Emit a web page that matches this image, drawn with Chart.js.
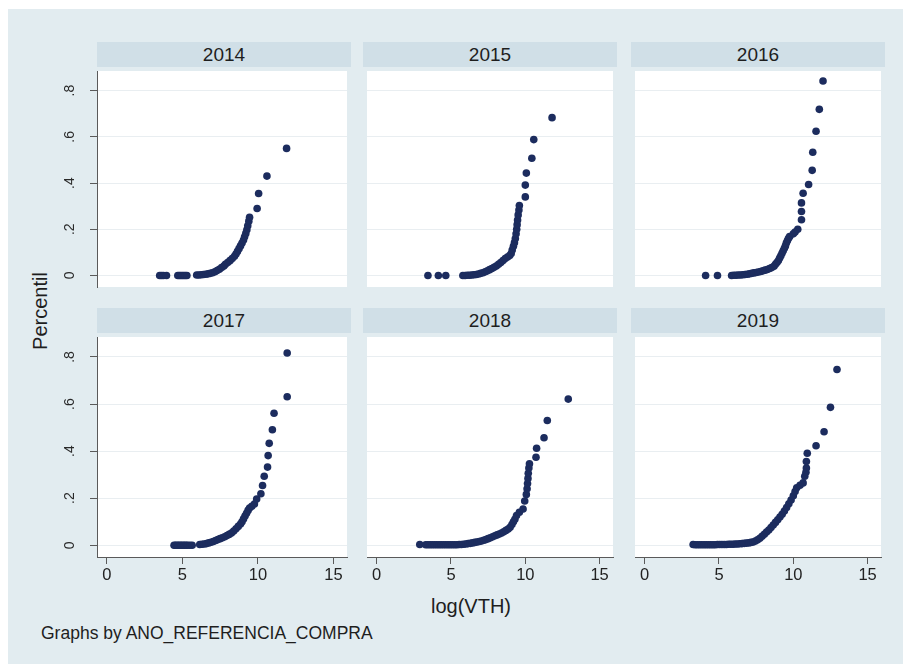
<!DOCTYPE html>
<html>
<head>
<meta charset="utf-8">
<script src="https://cdn.jsdelivr.net/npm/chart.js@4.4.1/dist/chart.umd.min.js"></script>
<style>
body{margin:0;width:903px;height:664px;background:#fff;position:relative;overflow:hidden;font-family:"Liberation Sans",Arial,sans-serif;}
#sfondo{position:absolute;left:8px;top:9px;right:0;bottom:0;background:#e2ecf0;}
.strip{position:absolute;height:25px;background:#d0dfe7;color:#1e1e1e;font-size:19px;line-height:26px;text-align:center;}
canvas{position:absolute;}
.testo{position:absolute;color:#1e1e1e;white-space:nowrap;line-height:1;}
</style>
</head>
<body>
<div id="sfondo"></div>
<div id="pannelli"></div>
<div class="testo" style="left:-10px;top:301px;width:100px;text-align:center;font-size:20px;transform:rotate(-90deg);transform-origin:50px 10px;">Percentil</div>
<div class="testo" style="left:431px;top:596px;font-size:20px;">log(VTH)</div>
<div class="testo" style="left:41px;top:625px;font-size:17.5px;">Graphs by ANO_REFERENCIA_COMPRA</div>
<script>
//anni dei pannelli
var anni = ["2014","2015","2016","2017","2018","2019"];

//tick degli assi
var xTick = [0,5,10,15];
var xTickLabel = ["0","5","10","15"];
var yTick = [0,0.2,0.4,0.6,0.8];
var yTickLabel = ["0",".2",".4",".6",".8"];

//punti [log(VTH), percentil]
var p2014 = [[3.5,0],[3.62,0],[3.75,0],[3.95,0],
  [4.7,0],[4.8,0],[4.9,0],[5.0,0],[5.1,0],[5.2,0],[5.3,0],
  [5.95,0.002],[6.1,0.002],[6.25,0.003],[6.4,0.004],[6.55,0.005],[6.7,0.007],[6.85,0.009],[7.0,0.012],
  [7.15,0.016],[7.3,0.021],[7.45,0.027],[7.6,0.034],[7.75,0.041],[7.85,0.048],[8.0,0.056],[8.15,0.064],
  [8.3,0.073],[8.45,0.083],[8.55,0.093],[8.65,0.104],[8.75,0.116],[8.85,0.128],[8.95,0.14],[9.05,0.153],
  [9.12,0.167],[9.2,0.182],[9.27,0.198],[9.33,0.215],[9.4,0.235],[9.45,0.252],[9.95,0.29],[10.05,0.355],
  [10.6,0.43],[11.9,0.55]];
var p2015 = [[3.45,0],[4.15,0],[4.65,0],
  [5.8,0],[5.95,0],[6.1,0.001],[6.25,0.001],[6.4,0.002],[6.55,0.003],[6.7,0.004],[6.85,0.006],[7.0,0.009],
  [7.15,0.012],[7.3,0.016],[7.45,0.02],[7.6,0.025],[7.75,0.03],[7.9,0.035],[8.05,0.041],[8.2,0.048],
  [8.35,0.056],[8.5,0.065],[8.65,0.073],[8.8,0.08],[8.95,0.086],[9.05,0.095],[9.12,0.11],[9.2,0.126],
  [9.27,0.142],[9.33,0.16],[9.38,0.18],[9.42,0.2],[9.45,0.22],[9.48,0.24],[9.52,0.262],[9.57,0.283],
  [9.6,0.303],[10.0,0.34],[10.0,0.391],[10.07,0.443],[10.44,0.507],[10.57,0.588],[11.8,0.683]];
var p2016 = [[4.1,0],[4.9,0],[5.85,0],[6.0,0.001],[6.15,0.001],[6.3,0.002],[6.45,0.002],[6.6,0.003],
  [6.75,0.004],[6.9,0.005],[7.05,0.007],[7.2,0.009],[7.35,0.011],[7.5,0.013],[7.65,0.015],[7.8,0.017],
  [7.95,0.02],[8.1,0.023],[8.25,0.026],[8.4,0.03],[8.55,0.034],[8.7,0.04],[8.8,0.048],[8.9,0.056],
  [9.0,0.065],[9.08,0.075],[9.16,0.085],[9.24,0.096],[9.32,0.107],[9.4,0.118],[9.47,0.128],[9.53,0.14],
  [9.6,0.15],[9.67,0.16],[9.75,0.168],[10.0,0.18],[10.12,0.188],[10.3,0.2],[10.55,0.241],[10.55,0.277],
  [10.55,0.314],[10.66,0.356],[11.03,0.394],[11.27,0.455],[11.31,0.533],[11.53,0.624],[11.75,0.719],[12.0,0.842]];
var p2017 = [[4.45,0],[4.55,0],[4.65,0],[4.75,0],[4.85,0],[4.95,0],[5.05,0],[5.15,0],[5.25,0],[5.35,0],
  [5.5,0],[5.65,0],
  [6.15,0.003],[6.3,0.004],[6.45,0.005],[6.6,0.007],[6.75,0.01],[6.9,0.013],[7.05,0.016],[7.2,0.02],
  [7.35,0.024],[7.5,0.028],[7.65,0.032],[7.8,0.036],[7.95,0.041],[8.1,0.046],[8.25,0.052],[8.4,0.06],
  [8.55,0.07],[8.7,0.08],[8.85,0.09],[8.95,0.1],[9.05,0.112],[9.15,0.124],[9.25,0.136],[9.35,0.148],
  [9.45,0.158],[9.6,0.166],[9.77,0.175],[9.92,0.196],[10.2,0.219],[10.31,0.254],[10.42,0.293],[10.64,0.332],
  [10.68,0.381],[10.75,0.433],[10.96,0.491],[11.07,0.561],[11.94,0.631],[11.94,0.817]];
var p2018 = [[2.9,0.003],[3.3,0.002],[3.45,0.002],[3.6,0.002],[3.75,0.002],[3.9,0.002],[4.05,0.002],
  [4.2,0.002],[4.35,0.002],[4.5,0.002],[4.65,0.002],[4.8,0.002],[4.95,0.002],[5.1,0.002],[5.25,0.002],
  [5.4,0.002],[5.55,0.003],[5.7,0.003],[5.85,0.004],[6.0,0.005],[6.15,0.007],[6.3,0.008],[6.45,0.01],
  [6.6,0.012],[6.75,0.014],[6.9,0.016],[7.05,0.018],[7.2,0.021],[7.35,0.024],[7.5,0.028],[7.65,0.032],
  [7.8,0.036],[7.95,0.04],[8.1,0.044],[8.25,0.048],[8.4,0.052],[8.55,0.057],[8.7,0.063],[8.85,0.069],
  [8.98,0.076],[9.1,0.088],[9.2,0.1],[9.3,0.11],[9.41,0.126],[9.6,0.14],[9.85,0.154],[9.96,0.188],
  [10.07,0.216],[10.12,0.24],[10.15,0.262],[10.18,0.284],[10.2,0.306],[10.24,0.328],[10.28,0.346],
  [10.72,0.374],[10.76,0.412],[11.26,0.457],[11.48,0.53],[12.89,0.621]];
var p2019 = [[3.26,0.003],[3.4,0.002],[3.55,0.002],[3.7,0.002],[3.85,0.002],[4.0,0.002],[4.15,0.002],
  [4.3,0.002],[4.45,0.002],[4.6,0.002],[4.75,0.002],[4.9,0.003],[5.05,0.003],[5.2,0.003],[5.35,0.003],
  [5.5,0.003],[5.65,0.004],[5.8,0.004],[5.95,0.004],[6.1,0.005],[6.25,0.005],[6.4,0.006],[6.55,0.007],
  [6.7,0.008],[6.85,0.009],[7.0,0.01],[7.15,0.012],[7.3,0.014],[7.45,0.018],[7.6,0.023],[7.75,0.03],
  [7.9,0.038],[8.05,0.047],[8.2,0.056],[8.35,0.065],[8.5,0.075],[8.65,0.086],[8.8,0.097],[8.95,0.108],
  [9.1,0.12],[9.25,0.132],[9.4,0.145],[9.55,0.16],[9.7,0.176],[9.85,0.192],[10.0,0.21],[10.12,0.228],
  [10.23,0.244],[10.45,0.255],[10.66,0.265],[10.77,0.293],[10.85,0.31],[10.88,0.328],[10.88,0.356],
  [10.94,0.391],[11.53,0.423],[12.07,0.482],[12.5,0.586],[12.94,0.747]];

var punti = [p2014,p2015,p2016,p2017,p2018,p2019];

//geometria dei pannelli (area bianca)
var colSx = [97,363,631];
var rigaTop = [67,333];
var largh = 254, alt = 224;
var yW = 45, xH = 36;

//riempie di bianco l'area del grafico
var areaBianca = {
  id:'areaBianca',
  beforeDraw:function(chart){
    var a = chart.chartArea, c = chart.ctx;
    c.save();
    c.fillStyle = '#ffffff';
    c.fillRect(a.left, a.top, a.right-a.left, a.bottom-a.top);
    c.restore();
  }
};

//etichette asse y ruotate come in Stata
var etichetteY = {
  id:'etichetteY',
  afterDraw:function(chart){
    if(!chart.options.plugins.etichetteY.mostra) return;
    var s = chart.scales.y, c = chart.ctx;
    c.save();
    c.fillStyle = '#2a2a2a';
    c.font = '14px "Liberation Sans", Arial, sans-serif';
    c.textAlign = 'center';
    c.textBaseline = 'middle';
    for(var i=0;i<yTick.length;i++){
      c.save();
      c.translate(s.left+18, s.getPixelForValue(yTick[i]));
      c.rotate(-Math.PI/2);
      c.fillText(yTickLabel[i], 0, 0);
      c.restore();
    }
    c.restore();
  }
};

function creaPannello(n){
  var col = n%3, riga = Math.floor(n/3);
  var sinistra = (col==0), basso = (riga==1);
  var w = largh + (sinistra ? yW : 0);
  var h = alt + (basso ? xH : 0);

  var strip = document.createElement('div');
  strip.className = 'strip';
  strip.style.left = colSx[col]+'px';
  strip.style.top = (rigaTop[riga]-25)+'px';
  strip.style.width = largh+'px';
  strip.textContent = anni[n];
  document.getElementById('pannelli').appendChild(strip);

  var cv = document.createElement('canvas');
  cv.width = w; cv.height = h;
  cv.style.left = (colSx[col] - (sinistra ? yW : 0))+'px';
  cv.style.top = rigaTop[riga]+'px';
  cv.style.width = w+'px'; cv.style.height = h+'px';
  document.body.appendChild(cv);

  new Chart(cv.getContext('2d'),{
    type:'scatter',
    data:{
      datasets:[{
        data:punti[n].map(function(p){return {x:p[0],y:p[1]};}),
        backgroundColor:'#1c2c5e',
        borderColor:'#1c2c5e',
        pointRadius:3.8,
        borderWidth:0
      }]
    },
    options:{
      responsive:false,
      animation:false,
      layout:{padding:0},
      plugins:{
        legend:{display:false},
        tooltip:{enabled:false},
        etichetteY:{mostra:sinistra}
      },
      scales:{
        x:{
          type:'linear', position:'bottom',
          min:-0.65, max:15.9,
          display:basso,
          afterBuildTicks:function(s){ s.ticks = xTick.map(function(v){return {value:v};}); },
          afterFit:function(s){ s.height = basso ? xH : 0; },
          grid:{drawOnChartArea:false, drawTicks:true, tickLength:7, tickColor:'#5a5a5a'},
          border:{display:true, color:'#5a5a5a', width:1},
          ticks:{
            color:'#222', padding:2,
            font:{size:16.5, family:'"Liberation Sans", Arial, sans-serif'},
            maxRotation:0,
            callback:function(v){ return xTickLabel[xTick.indexOf(v)]; }
          }
        },
        y:{
          type:'linear', position:'left',
          min:-0.05, max:0.885,
          afterBuildTicks:function(s){ s.ticks = yTick.map(function(v){return {value:v};}); },
          afterFit:function(s){ s.width = sinistra ? yW : 0; },
          grid:{color:'#e9eef1', lineWidth:1, drawTicks:sinistra, tickLength:7, tickColor:'#5a5a5a'},
          border:{display:sinistra, color:'#5a5a5a', width:1},
          ticks:{display:false}
        }
      }
    },
    plugins:[areaBianca, etichetteY]
  });
}

for(var i=0;i<anni.length;i++) creaPannello(i);
</script>
</body>
</html>
